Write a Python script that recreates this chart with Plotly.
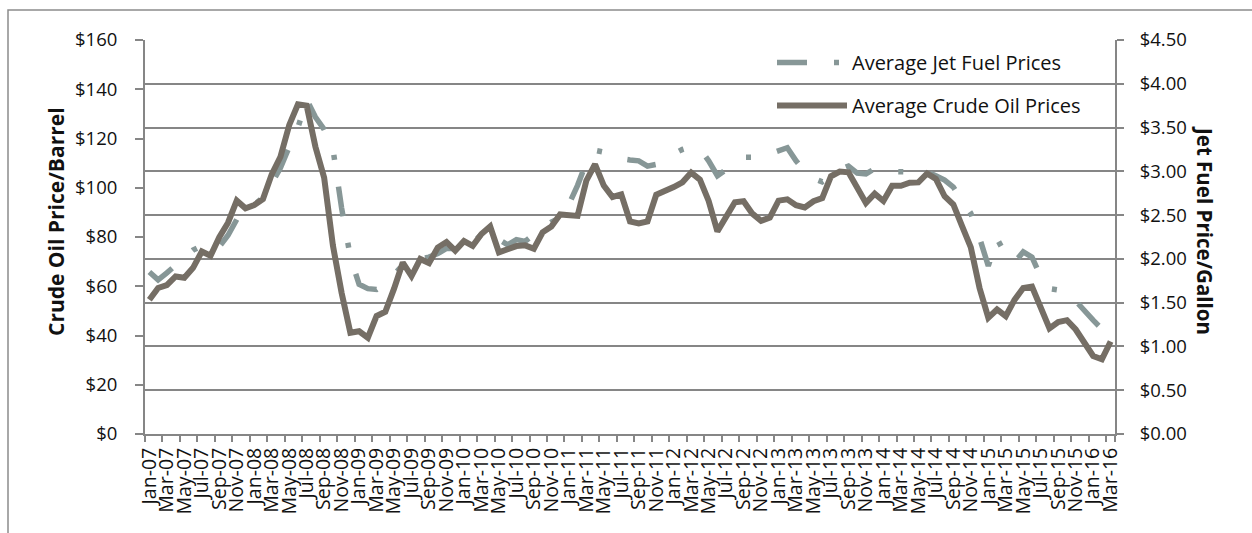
import plotly.graph_objects as go

MONTH_NAMES = ["Jan", "Feb", "Mar", "Apr", "May", "Jun", "Jul", "Aug", "Sep", "Oct", "Nov", "Dec"]
months = [f"{m}-{y:02d}" for y in range(7, 17) for m in MONTH_NAMES][:111]

crude_oil = [
    54.51, 59.28, 60.44, 63.98, 63.46, 67.49, 74.12, 72.36, 79.92, 85.80, 94.77, 91.69,
    92.97, 95.39, 105.45, 112.58, 125.40, 133.88, 133.37, 116.67, 104.11, 76.61, 57.31, 41.12,
    41.71, 39.09, 47.94, 49.65, 59.03, 69.64, 64.15, 71.05, 69.41, 75.72, 77.99, 74.47,
    78.33, 76.39, 81.20, 84.29, 73.74, 75.34, 76.32, 76.60, 75.24, 81.89, 84.25, 89.15,
    89.17, 88.58, 102.86, 109.53, 100.90, 96.26, 97.30, 86.33, 85.52, 86.32, 97.16, 98.56,
    100.27, 102.20, 106.16, 103.32, 94.66, 82.30, 87.90, 94.13, 94.51, 89.49, 86.53, 87.86,
    94.76, 95.31, 92.94, 92.02, 94.51, 95.77, 104.67, 106.57, 106.29, 100.54, 93.86, 97.63,
    94.62, 100.82, 100.80, 102.07, 102.18, 105.79, 103.59, 96.54, 93.21, 84.40, 75.79, 59.29,
    47.22, 50.58, 47.82, 54.45, 59.27, 59.82, 50.90, 42.87, 45.48, 46.22, 42.44, 37.19,
    31.68, 30.32, 37.55,
]

jet_fuel = [
    1.85, 1.76, 1.84, 1.93, 2.00, 2.10, 2.15, 2.10, 2.14, 2.27, 2.45, 2.58,
    2.62, 2.70, 2.86, 3.04, 3.28, 3.50, 3.82, 3.62, 3.48, 3.26, 2.58, 2.02,
    1.71, 1.66, 1.65, 1.72, 1.82, 1.93, 1.96, 2.00, 2.02, 2.06, 2.12, 2.12,
    2.16, 2.18, 2.28, 2.32, 2.22, 2.16, 2.22, 2.20, 2.28, 2.36, 2.42, 2.47,
    2.62, 2.84, 3.10, 3.24, 3.22, 3.16, 3.14, 3.13, 3.12, 3.06, 3.08, 3.15,
    3.20, 3.25, 3.28, 3.26, 3.12, 2.95, 3.02, 3.12, 3.16, 3.16, 3.16, 3.20,
    3.24, 3.27, 3.12, 3.00, 2.92, 2.88, 2.95, 3.02, 3.06, 2.98, 2.97, 3.03,
    3.00, 3.00, 2.99, 3.00, 3.00, 2.99, 2.95, 2.90, 2.82, 2.68, 2.52, 2.24,
    1.92, 2.23, 2.05, 1.96, 2.08, 2.02, 1.80, 1.66, 1.64, 1.63, 1.52, 1.40,
    1.30, 1.20, 1.18,
]

tick_labels = months[::2]

GRAY = "#868686"
CRUDE_COLOR = "#756E65"
JET_COLOR = "#879797"
FONT = "Open Sans"
TXT = "#111111"

W, H = 1252, 533
L, R, T, B = 145, 1115, 40, 434


def px_x(p):
    return (p - L) / (R - L)


def px_y(p):
    return (B - p) / (B - T)


fig = go.Figure()
fig.add_trace(go.Scatter(
    x=months, y=jet_fuel, name="Average Jet Fuel Prices", mode="lines",
    line=dict(color=JET_COLOR, width=5.5, dash="30px,27px,5px,27px"),
    yaxis="y", legendgroup="a",
))
fig.add_trace(go.Scatter(
    x=months, y=crude_oil, name="Average Crude Oil Prices", mode="lines",
    line=dict(color=CRUDE_COLOR, width=6),
    yaxis="y2", legendgroup="b",
))

fig.update_layout(
    width=W, height=H,
    margin=dict(l=L, r=W - R, t=T, b=H - B),
    paper_bgcolor="white", plot_bgcolor="white",
    font=dict(family=FONT, size=18, color=TXT),
    showlegend=True,
    legend=dict(
        x=px_x(772), y=px_y(43), xanchor="left", yanchor="top",
        bgcolor="rgba(0,0,0,0)", itemwidth=70, tracegroupgap=14,
        font=dict(family=FONT, size=20, color=TXT),
    ),
    xaxis=dict(
        type="category", range=[-0.5, len(months) - 0.5],
        tickmode="array", tickvals=tick_labels, ticktext=tick_labels,
        tickson="boundaries", ticks="outside", ticklen=6, tickwidth=2, tickcolor=GRAY,
        showline=True, linecolor=GRAY, linewidth=2, showgrid=False,
        tickangle=-90, ticklabelstandoff=4,
        tickfont=dict(size=19.5, family=FONT, color=TXT),
    ),
    yaxis=dict(
        side="right", range=[0, 4.5], tick0=0, dtick=0.5,
        tickformat=".2f", tickprefix="$",
        showgrid=True, gridcolor=GRAY, gridwidth=2, zeroline=False,
        showline=True, linecolor=GRAY, linewidth=2,
        ticks="outside", ticklen=7, tickwidth=2, tickcolor=GRAY,
        ticklabelstandoff=12,
        tickfont=dict(size=18.5, family=FONT, color=TXT),
    ),
    yaxis2=dict(
        side="left", overlaying="y", range=[0, 160], tick0=0, dtick=20,
        tickformat=",d", tickprefix="$",
        showgrid=False, zeroline=False,
        showline=True, linecolor=GRAY, linewidth=2,
        ticks="outside", ticklen=8, tickwidth=2, tickcolor=GRAY,
        ticklabelstandoff=14,
        tickfont=dict(size=18.5, family=FONT, color=TXT),
    ),
    shapes=[
        dict(type="rect", xref="paper", yref="paper",
             x0=px_x(8), x1=px_x(1262), y0=px_y(545), y1=px_y(10),
             line=dict(color="#8c8c8c", width=1.5), fillcolor="rgba(0,0,0,0)", layer="below"),
        dict(type="rect", xref="paper", yref="paper",
             x0=px_x(750), x1=px_x(1112), y0=px_y(122), y1=px_y(46),
             line=dict(width=0), fillcolor="white", layer="between"),
    ],
    annotations=[
        dict(text="<b>Crude Oil Price/Barrel</b>", xref="paper", yref="paper",
             x=px_x(56), y=px_y(222), textangle=-90, showarrow=False,
             xanchor="center", yanchor="middle",
             font=dict(family=FONT, size=21, color=TXT)),
        dict(text="<b>Jet Fuel Price/Gallon</b>", xref="paper", yref="paper",
             x=px_x(1205), y=px_y(230), textangle=90, showarrow=False,
             xanchor="center", yanchor="middle",
             font=dict(family=FONT, size=20.5, color=TXT)),
    ],
)

fig.write_html("out.html")
